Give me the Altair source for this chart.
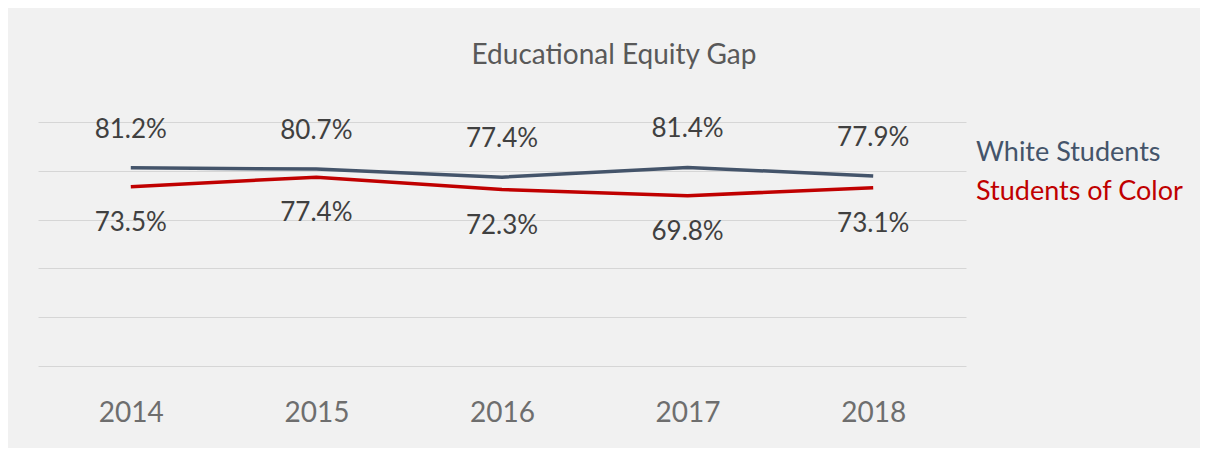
import altair as alt
import pandas as pd

years = ["2014", "2015", "2016", "2017", "2018"]
white_students = [81.2, 80.7, 77.4, 81.4, 77.9]
students_of_color = [73.5, 77.4, 72.3, 69.8, 73.1]
series_names = ["White Students", "Students of Color"]
series_colors = ["#44546a", "#c00000"]
grid_values = [0, 20, 40, 60, 80, 100]

rows = []
for yr, w, c in zip(years, white_students, students_of_color):
    rows.append({"year": yr, "series": series_names[0], "value": w})
    rows.append({"year": yr, "series": series_names[1], "value": c})
df = pd.DataFrame(rows)

FONT = "Lato"

x_enc = alt.X(
    "year:O",
    sort=years,
    axis=alt.Axis(
        title=None, domain=False, ticks=False, tickSize=0, grid=False,
        labelAngle=0, labelFontSize=28, labelFont=FONT, labelColor="#6e6e6e",
        labelPadding=33,
    ),
)
y_enc = alt.Y(
    "value:Q",
    scale=alt.Scale(domain=[0, 100], nice=False),
    axis=alt.Axis(
        title=None, labels=False, ticks=False, domain=False, values=grid_values,
        grid=True, gridColor="#d6d6d6", gridWidth=1,
    ),
)

legend = alt.Legend(
    title=None, orient="none", legendX=911, legendY=17,
    symbolSize=0, symbolStrokeWidth=0, symbolOpacity=0,
    labelFontSize=27, labelFont=FONT, labelOffset=0, labelLimit=400,
    labelColor={"expr": "datum.value == 'White Students' ? '#44546a' : '#c00000'"},
    rowPadding=11, padding=0,
)

base = alt.Chart(df).encode(x=x_enc, y=y_enc)

lines = base.mark_line(strokeWidth=3.5).encode(
    color=alt.Color(
        "series:N",
        scale=alt.Scale(domain=series_names, range=series_colors),
        legend=legend,
    )
)

lab = base.transform_calculate(
    label="format(datum.value, '.1f') + '%'"
)

white_labels = lab.transform_filter(
    alt.datum.series == series_names[0]
).mark_text(dy=-38, fontSize=26, font=FONT, color="#404040", baseline="middle").encode(
    text="label:N"
)
color_labels = lab.transform_filter(
    alt.datum.series == series_names[1]
).mark_text(dy=36, fontSize=26, font=FONT, color="#404040", baseline="middle").encode(
    text="label:N"
)

chart = alt.layer(lines, white_labels, color_labels).properties(
    width=928,
    height=244,
    autosize=alt.AutoSizeParams(type="none"),
    padding={"left": 30, "top": 114, "right": 234, "bottom": 82},
    background="#f1f1f1",
    title=alt.TitleParams(
        "Educational Equity Gap", fontSize=28, font=FONT, fontWeight="normal",
        color="#595959", anchor="middle", dx=112, offset=24, baseline="alphabetic",
    ),
).configure_view(strokeWidth=0)

chart.save("out.html", embed_options={"renderer": "svg", "actions": False})
